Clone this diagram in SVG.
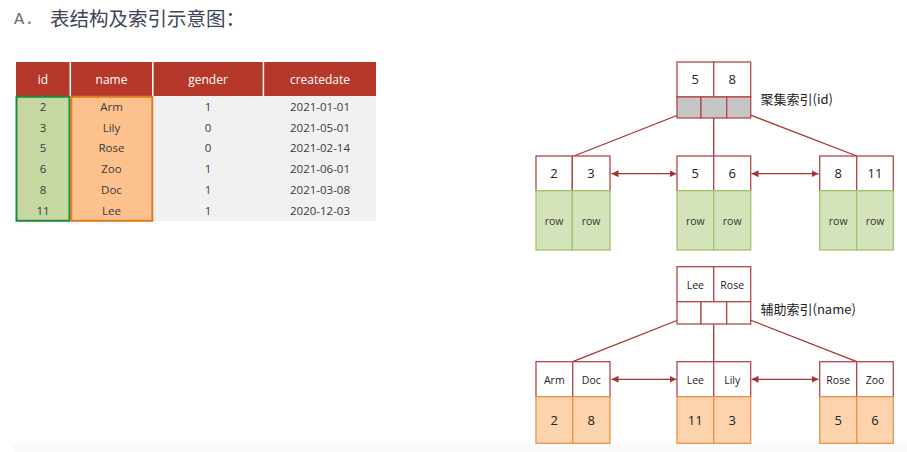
<svg xmlns="http://www.w3.org/2000/svg" width="907" height="452" viewBox="0 0 907 452">
<style>
text{font-family:"Open Sans","Noto Sans","Noto Sans CJK SC",sans-serif;}
.hd{fill:#ffffff;font-size:12px;text-anchor:middle;}
.td{fill:#3a3a3a;font-size:11.5px;text-anchor:middle;}
.key{fill:#ffffff;stroke:#b3474a;stroke-width:1.3;}
.ptr{fill:#c6c6c6;stroke:#b3474a;stroke-width:1.3;}
.ptrw{fill:#ffffff;stroke:#b3474a;stroke-width:1.3;}
.grn{fill:#d5e3bb;stroke:#9fc46a;stroke-width:1.3;}
.org{fill:#fdd3ad;stroke:#e8924a;stroke-width:1.3;}
.kt{fill:#222;font-size:13px;text-anchor:middle;}
.nt{fill:#222;font-size:10.5px;text-anchor:middle;}
.rt{fill:#333;font-size:10.5px;text-anchor:middle;}
.lbl{fill:#222;font-size:13px;font-family:"Noto Sans CJK SC","Noto Sans",sans-serif;}
.ln{stroke:#a83232;stroke-width:1.3;fill:none;}
.ar{stroke:#a83232;stroke-width:1.3;fill:none;marker-start:url(#ah);marker-end:url(#ah);}
</style>
<defs>
<marker id="ah" viewBox="0 0 10 10" refX="10" refY="5" markerWidth="7" markerHeight="7" orient="auto-start-reverse" markerUnits="userSpaceOnUse">
<path d="M0,0 L10,5 L0,10 z" fill="#a83232"/>
</marker>
</defs>
<rect x="0" y="0" width="907" height="452" fill="#ffffff"/>
<rect x="13" y="444" width="894" height="8" fill="#fafafa"/>

<g id="title">
<text x="14" y="24" style="font-family:'Liberation Mono','DejaVu Sans Mono',monospace;font-size:17px;fill:#6e6e6e">A.</text>
<text x="50" y="25.5" style="font-family:'Noto Sans CJK SC','Noto Sans',sans-serif;font-size:19.5px;fill:#3b4556">表结构及索引示意图：</text>
</g>

<g id="table">
<rect x="16" y="62" width="360" height="34" fill="#b5382b"/>
<line x1="70.3" y1="62" x2="70.3" y2="96" stroke="#ffffff" stroke-width="1.5"/>
<line x1="152.8" y1="62" x2="152.8" y2="96" stroke="#ffffff" stroke-width="1.5"/>
<line x1="263.4" y1="62" x2="263.4" y2="96" stroke="#ffffff" stroke-width="1.5"/>
<text class="hd" x="43" y="83.5">id</text>
<text class="hd" x="111.5" y="83.5">name</text>
<text class="hd" x="208" y="83.5">gender</text>
<text class="hd" x="320" y="83.5">createdate</text>
<rect x="16" y="96" width="360" height="125" fill="#f1f1f1"/>
<rect x="16.5" y="96.8" width="53" height="124" fill="#c6d7a1" stroke="#1f8b3f" stroke-width="2"/>
<rect x="71.3" y="96.8" width="81" height="124" fill="#fdc18e" stroke="#e07a1f" stroke-width="2"/>
<g class="col-id">
<text class="td" x="43" y="110.8">2</text>
<text class="td" x="43" y="131.6">3</text>
<text class="td" x="43" y="152.4">5</text>
<text class="td" x="43" y="173.2">6</text>
<text class="td" x="43" y="194">8</text>
<text class="td" x="43" y="214.8">11</text>
</g>
<g class="col-name">
<text class="td" x="111.5" y="110.8">Arm</text>
<text class="td" x="111.5" y="131.6">Lily</text>
<text class="td" x="111.5" y="152.4">Rose</text>
<text class="td" x="111.5" y="173.2">Zoo</text>
<text class="td" x="111.5" y="194">Doc</text>
<text class="td" x="111.5" y="214.8">Lee</text>
</g>
<g class="col-gender">
<text class="td" x="208" y="110.8">1</text>
<text class="td" x="208" y="131.6">0</text>
<text class="td" x="208" y="152.4">0</text>
<text class="td" x="208" y="173.2">1</text>
<text class="td" x="208" y="194">1</text>
<text class="td" x="208" y="214.8">1</text>
</g>
<g class="col-date">
<text class="td" x="320" y="110.8">2021-01-01</text>
<text class="td" x="320" y="131.6">2021-05-01</text>
<text class="td" x="320" y="152.4">2021-02-14</text>
<text class="td" x="320" y="173.2">2021-06-01</text>
<text class="td" x="320" y="194">2021-03-08</text>
<text class="td" x="320" y="214.8">2020-12-03</text>
</g>
</g>

<g id="connectors">
<line class="ln" x1="688.3" y1="111" x2="574" y2="156"/>
<line class="ln" x1="713.7" y1="110" x2="713.7" y2="156"/>
<line class="ln" x1="740" y1="111" x2="856.7" y2="156"/>
<line class="ar" x1="611.5" y1="173.7" x2="676.5" y2="173.7"/>
<line class="ar" x1="751.5" y1="173.7" x2="818.5" y2="173.7"/>
<line class="ln" x1="688.3" y1="316" x2="572.7" y2="361.7"/>
<line class="ln" x1="713.7" y1="315" x2="713.7" y2="361.7"/>
<line class="ln" x1="740" y1="316" x2="856.7" y2="361.7"/>
<line class="ar" x1="611.5" y1="379.3" x2="676.5" y2="379.3"/>
<line class="ar" x1="751.5" y1="379.3" x2="818.5" y2="379.3"/>
</g>

<g id="ci-root">
<rect class="key" x="677" y="62" width="36.7" height="35"/>
<rect class="key" x="713.7" y="62" width="37" height="35"/>
<rect class="ptr" x="677" y="97" width="24" height="21"/>
<rect class="ptr" x="701" y="97" width="25.7" height="21"/>
<rect class="ptr" x="726.7" y="97" width="24" height="21"/>
<text class="kt" x="695.3" y="84">5</text>
<text class="kt" x="732.2" y="84">8</text>
<text class="lbl" x="760.5" y="104">聚集索引(id)</text>
</g>

<g id="ci-leaf1">
<rect class="key" x="536" y="156" width="36.3" height="34.7"/>
<rect class="key" x="572.3" y="156" width="37.7" height="34.7"/>
<rect class="grn" x="536" y="190.7" width="36.3" height="59.3"/>
<rect class="grn" x="572.3" y="190.7" width="37.7" height="59.3"/>
<text class="kt" x="554" y="178">2</text>
<text class="kt" x="591" y="178">3</text>
<text class="rt" x="554" y="225">row</text>
<text class="rt" x="591" y="225">row</text>
</g>

<g id="ci-leaf2">
<rect class="key" x="677" y="156" width="36.7" height="34.7"/>
<rect class="key" x="713.7" y="156" width="37" height="34.7"/>
<rect class="grn" x="677" y="190.7" width="36.7" height="59.3"/>
<rect class="grn" x="713.7" y="190.7" width="37" height="59.3"/>
<text class="kt" x="695.3" y="178">5</text>
<text class="kt" x="732.2" y="178">6</text>
<text class="rt" x="695.3" y="225">row</text>
<text class="rt" x="732.2" y="225">row</text>
</g>

<g id="ci-leaf3">
<rect class="key" x="819.7" y="156" width="37" height="34.7"/>
<rect class="key" x="856.7" y="156" width="36.6" height="34.7"/>
<rect class="grn" x="819.7" y="190.7" width="37" height="59.3"/>
<rect class="grn" x="856.7" y="190.7" width="36.6" height="59.3"/>
<text class="kt" x="838.2" y="178">8</text>
<text class="kt" x="875" y="178">11</text>
<text class="rt" x="838.2" y="225">row</text>
<text class="rt" x="875" y="225">row</text>
</g>

<g id="si-root">
<rect class="key" x="677" y="266.7" width="36.7" height="35"/>
<rect class="key" x="713.7" y="266.7" width="37" height="35"/>
<rect class="ptrw" x="677" y="301.7" width="24" height="22.3"/>
<rect class="ptrw" x="701" y="301.7" width="25.7" height="22.3"/>
<rect class="ptrw" x="726.7" y="301.7" width="24" height="22.3"/>
<text class="nt" x="695.3" y="289">Lee</text>
<text class="nt" x="732.2" y="289">Rose</text>
<text class="lbl" x="760.5" y="313.5">辅助索引(name)</text>
</g>

<g id="si-leaf1">
<rect class="key" x="536" y="361.7" width="36.7" height="35"/>
<rect class="key" x="572.7" y="361.7" width="37.3" height="35"/>
<rect class="org" x="536" y="396.7" width="36.7" height="46.6"/>
<rect class="org" x="572.7" y="396.7" width="37.3" height="46.6"/>
<text class="nt" x="554.3" y="383.5">Arm</text>
<text class="nt" x="591.3" y="383.5">Doc</text>
<text class="kt" x="554.3" y="425">2</text>
<text class="kt" x="591.3" y="425">8</text>
</g>

<g id="si-leaf2">
<rect class="key" x="677" y="361.7" width="36.7" height="35"/>
<rect class="key" x="713.7" y="361.7" width="37" height="35"/>
<rect class="org" x="677" y="396.7" width="36.7" height="46.6"/>
<rect class="org" x="713.7" y="396.7" width="37" height="46.6"/>
<text class="nt" x="695.3" y="383.5">Lee</text>
<text class="nt" x="732.2" y="383.5">Lily</text>
<text class="kt" x="695.3" y="425">11</text>
<text class="kt" x="732.2" y="425">3</text>
</g>

<g id="si-leaf3">
<rect class="key" x="819.7" y="361.7" width="37" height="35"/>
<rect class="key" x="856.7" y="361.7" width="36.6" height="35"/>
<rect class="org" x="819.7" y="396.7" width="37" height="46.6"/>
<rect class="org" x="856.7" y="396.7" width="36.6" height="46.6"/>
<text class="nt" x="838.2" y="383.5">Rose</text>
<text class="nt" x="875" y="383.5">Zoo</text>
<text class="kt" x="838.2" y="425">5</text>
<text class="kt" x="875" y="425">6</text>
</g>
</svg>
